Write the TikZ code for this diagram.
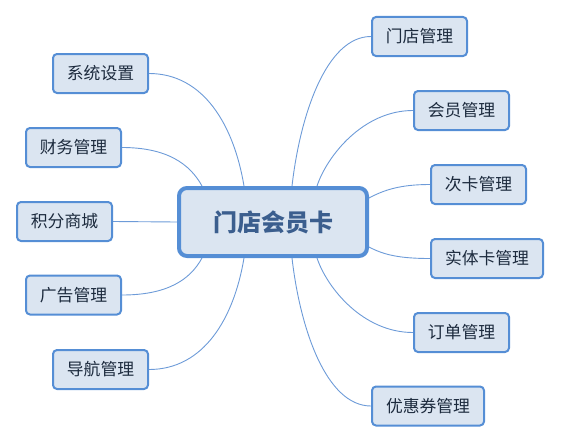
\documentclass[tikz,border=0pt]{standalone}
\usepackage{fontspec}
\usetikzlibrary{backgrounds}
\newfontfamily\cjk{Noto Sans CJK SC}
\definecolor{bordc}{HTML}{558ED5}
\definecolor{fillc}{HTML}{DBE5F1}
\definecolor{linec}{HTML}{6D9BD8}
\definecolor{leaftext}{HTML}{1C2A3D}
\definecolor{maintext}{HTML}{3B5E8E}
\tikzset{
  leaf/.style={draw=bordc, fill=fillc, line width=2pt, rounded corners=4pt,
    minimum width=95pt, minimum height=39pt, inner sep=0pt,
    font=\cjk\fontsize{16.8}{19}\selectfont, text=leaftext},
  wideleaf/.style={leaf, minimum width=112pt},
  mainbox/.style={draw=bordc, fill=fillc, line width=4pt, rounded corners=8pt,
    minimum width=188pt, minimum height=68pt, inner sep=0pt,
    font=\cjk\bfseries\fontsize{24}{28}\selectfont, text=maintext},
  conn/.style={draw=linec, line width=0.9pt}
}
\begin{document}
\begin{tikzpicture}[x=1pt,y=-1pt]
\useasboundingbox (0,0) rectangle (561,444);
\node[mainbox] (c) at (273,222) {门店会员卡};
% left
\node[leaf] (l1) at (100.5,73.5) {系统设置};
\node[leaf] (l2) at (73.5,147.5) {财务管理};
\node[leaf] (l3) at (64.5,221.5) {积分商城};
\node[leaf] (l4) at (73.5,295) {广告管理};
\node[leaf] (l5) at (100.5,369.5) {导航管理};
% right
\node[leaf] (r1) at (419.5,36.5) {门店管理};
\node[leaf] (r2) at (461.5,110.5) {会员管理};
\node[leaf] (r3) at (478.5,184.5) {次卡管理};
\node[wideleaf] (r4) at (487,258.5) {实体卡管理};
\node[leaf] (r5) at (461.5,332.5) {订单管理};
\node[wideleaf] (r6) at (428,406) {优惠券管理};
% anchor points on the centre box
\coordinate (cl1) at ([xshift=-29pt]c.north);
\coordinate (cl2) at ([xshift=-71pt]c.north);
\coordinate (cl4) at ([xshift=-71pt]c.south);
\coordinate (cl5) at ([xshift=-29pt]c.south);
\coordinate (cr1) at ([xshift=19pt]c.north);
\coordinate (cr2) at ([xshift=44pt]c.north);
\coordinate (cr3) at ([yshift=24pt]c.east);
\coordinate (cr4) at ([yshift=-25pt]c.east);
\coordinate (cr5) at ([xshift=44pt]c.south);
\coordinate (cr6) at ([xshift=19pt]c.south);
\begin{scope}[on background layer]
\path[conn] (cl1) .. controls +(-10,-60) and +(55,0) .. (l1.east);
\path[conn] (cl2) .. controls +(-12,-22) and +(45,0) .. (l2.east);
\path[conn] (c.west) -- (l3.east);
\path[conn] (cl4) .. controls +(-12,22) and +(45,0) .. (l4.east);
\path[conn] (cl5) .. controls +(-10,60) and +(55,0) .. (l5.east);
\path[conn] (cr1) .. controls +(8,-70) and +(-45,0) .. (r1.west);
\path[conn] (cr2) .. controls +(10,-30) and +(-50,0) .. (r2.west);
\path[conn] (cr3) .. controls +(15,-8) and +(-30,0) .. (r3.west);
\path[conn] (cr4) .. controls +(15,8) and +(-30,0) .. (r4.west);
\path[conn] (cr5) .. controls +(10,30) and +(-50,0) .. (r5.west);
\path[conn] (cr6) .. controls +(8,70) and +(-45,0) .. (r6.west);
\end{scope}
\end{tikzpicture}
\end{document}
